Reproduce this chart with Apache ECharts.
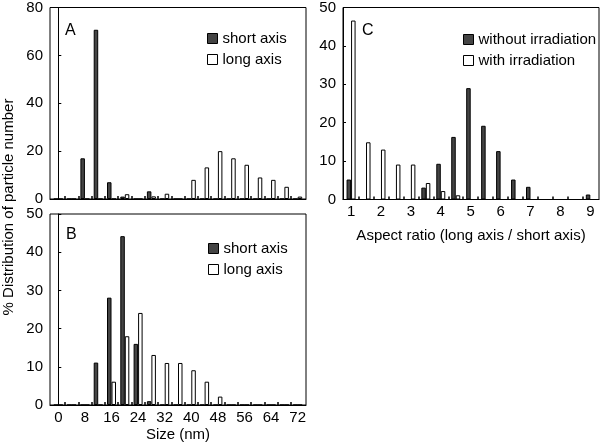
<!DOCTYPE html>
<html>
<head>
<meta charset="utf-8">
<script src="https://cdn.jsdelivr.net/npm/echarts@6/dist/echarts.min.js"></script>
<style>
  html, body { margin: 0; padding: 0; background: #fff; }
  #chart { width: 600px; height: 444px; }
</style>
</head>
<body>
<div id="chart"></div>
<script>
// size bins (nm), panels A and B
const sizeBins = [0, 4, 8, 12, 16, 20, 24, 28, 32, 36, 40, 44, 48, 52, 56, 60, 64, 68, 72];
const aShort = [0, 0, 17, 70.7, 7, 1, 0, 3.2, 0, 0, 0, 0, 0, 0, 0, 0, 0, 0, 0];
const aLong = [0, 0, 0, 0, 0, 2, 0, 1.1, 2.2, 0, 8, 13.2, 20, 17, 14.3, 9, 8, 5.1, 1];
const bShort = [0, 0, 0, 11.1, 28.1, 44.2, 16, 1, 0, 0, 0, 0, 0, 0, 0, 0, 0, 0, 0];
const bLong = [0, 0, 0, 0, 6.1, 18, 24.1, 13.1, 11, 11, 9.1, 6.1, 2.2, 0, 0, 0, 0, 0, 0];
const sizeLabels = [0, 8, 16, 24, 32, 40, 48, 56, 64, 72];
const sizeTicks = [2, 6, 10, 14, 18, 22, 26, 30, 34, 38, 42, 46, 50, 54, 58, 62, 66, 70];

// aspect ratio bins, panel C
const ratioBins = [1, 1.5, 2, 2.5, 3, 3.5, 4, 4.5, 5, 5.5, 6, 6.5, 7, 7.5, 8, 8.5, 9];
const cWithout = [5.2, 0, 0, 0, 0, 3.1, 9.3, 16.3, 29, 19.2, 12.6, 5.2, 3.3, 0, 0, 0, 1.3];
const cWith = [46.6, 14.9, 13, 9.1, 9.1, 4.3, 2.2, 1.1, 0, 0, 0, 0, 0, 0, 0, 0, 0];
const ratioLabels = [1, 2, 3, 4, 5, 6, 7, 8, 9];
const ratioTicks = [1.25, 1.75, 2.25, 2.75, 3.25, 3.75, 4.25, 4.75, 5.25, 5.75, 6.25, 6.75, 7.25, 7.75, 8.25, 8.75];

const FONT = 'Liberation Sans, Arial, sans-serif';
const FS = 15;
const darkStyle = {color: '#444', borderColor: '#000', borderWidth: 1};
const lightStyle = {color: '#fff', borderColor: '#000', borderWidth: 1};

const pairs = function (xs, ys) {
    return xs.map(function (x, i) { return [x, ys[i]]; });
};

const xAxisBase = function (grid, min, max, ticks, labels, name, gap) {
    return {
        gridIndex: grid
        , type: 'value'
        , min: min
        , max: max
        , axisLine: {show: true, onZero: false, lineStyle: {color: '#000', width: 1}}
        , axisTick: {show: true, inside: true, length: 3, customValues: ticks, lineStyle: {color: '#000', width: 1.5}}
        , axisLabel: labels ? {show: true, customValues: labels, color: '#000', fontSize: FS, fontFamily: FONT, margin: 5} : {show: false}
        , splitLine: {show: false}
        , name: name || ''
        , nameLocation: 'middle'
        , nameGap: gap || 0
        , nameTextStyle: {color: '#000', fontSize: FS, fontFamily: FONT}
    };
};

const yAxisBase = function (grid, max, interval) {
    return {
        gridIndex: grid
        , type: 'value'
        , min: 0
        , max: max
        , interval: interval
        , axisLine: {show: true, lineStyle: {color: '#000', width: 1}}
        , axisTick: {show: true, inside: true, length: 3, lineStyle: {color: '#000'}}
        , axisLabel: {color: '#000', fontSize: FS, fontFamily: FONT, margin: 7}
        , splitLine: {show: false}
    };
};

const barSeries = function (name, axis, data, style) {
    return {
        name: name
        , type: 'bar'
        , xAxisIndex: axis
        , yAxisIndex: axis
        , data: data
        , barWidth: 4.5
        , barGap: '0%'
        , itemStyle: style
        , emphasis: {disabled: true}
        , animation: false
    };
};

const legendBase = function (left, top, names) {
    return {
        orient: 'vertical'
        , left: left
        , top: top
        , padding: 0
        , itemWidth: 10
        , itemHeight: 10
        , itemGap: 6
        , icon: 'rect'
        , selectedMode: false
        , textStyle: {color: '#000', fontSize: FS, fontFamily: FONT}
        , data: [
            {name: names[0], itemStyle: darkStyle}
            , {name: names[1], itemStyle: lightStyle}
        ]
    };
};

const chart = echarts.init(document.getElementById('chart'), null, {renderer: 'canvas'});
chart.setOption({
    backgroundColor: '#fff'
    , animation: false
    , grid: [
        {left: 50, top: 7, width: 256, height: 192, show: true, borderColor: '#000', borderWidth: 1, backgroundColor: 'transparent'}
        , {left: 50, top: 214, width: 256, height: 191, show: true, borderColor: '#000', borderWidth: 1, backgroundColor: 'transparent'}
        , {left: 343, top: 7, width: 256, height: 192.5, show: true, borderColor: '#000', borderWidth: 1, backgroundColor: 'transparent'}
    ]
    , xAxis: [
        xAxisBase(0, -2.5, 74.5, sizeTicks, null)
        , xAxisBase(1, -2.5, 74.5, sizeTicks, sizeLabels, 'Size (nm)', 22)
        , xAxisBase(2, 0.73, 9.29, ratioTicks, ratioLabels, 'Aspect ratio (long axis / short axis)', 29)
    ]
    , yAxis: [
        yAxisBase(0, 80, 20)
        , yAxisBase(1, 50, 10)
        , yAxisBase(2, 50, 10)
    ]
    , legend: [
        legendBase(207, 31, ['short axis', 'long axis'])
        , legendBase(208, 241, ['short axis', 'long axis'])
        , legendBase(463, 32, ['without irradiation', 'with irradiation'])
    ]
    , graphic: [
        {type: 'text', left: 65, top: 23, style: {text: 'A', fill: '#000', font: '16px ' + FONT}}
        , {type: 'text', left: 66, top: 227, style: {text: 'B', fill: '#000', font: '16px ' + FONT}}
        , {type: 'text', left: 362, top: 23, style: {text: 'C', fill: '#000', font: '16px ' + FONT}}
        , {
            type: 'text', x: 9, y: 207, rotation: Math.PI / 2
            , style: {text: '% Distribution of particle number', fill: '#000', font: FS + 'px ' + FONT, align: 'center', verticalAlign: 'middle'}
        }
    ]
    , series: [
        barSeries('short axis', 0, pairs(sizeBins, aShort), darkStyle)
        , barSeries('long axis', 0, pairs(sizeBins, aLong), lightStyle)
        , barSeries('short axis', 1, pairs(sizeBins, bShort), darkStyle)
        , barSeries('long axis', 1, pairs(sizeBins, bLong), lightStyle)
        , barSeries('without irradiation', 2, pairs(ratioBins, cWithout), darkStyle)
        , barSeries('with irradiation', 2, pairs(ratioBins, cWith), lightStyle)
    ]
});
</script>
</body>
</html>
